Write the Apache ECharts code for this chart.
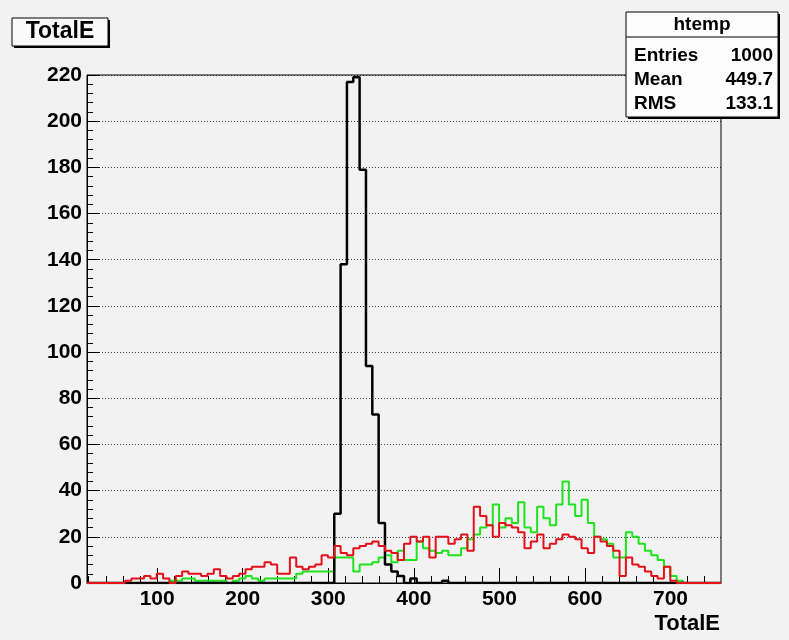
<!DOCTYPE html>
<html><head><meta charset="utf-8">
<script src="https://cdn.jsdelivr.net/npm/echarts@6/dist/echarts.min.js"></script>
<style>html,body{margin:0;padding:0;background:#f2f2f2;}#c{width:789px;height:640px;}</style>
</head><body><div id="c"></div>
<script>
// ---- data ----
const X_MIN = 18, X_MAX = 759, N_BINS = 100;
const xTickLabels = [100, 200, 300, 400, 500, 600, 700];
const yTickLabels = [0, 20, 40, 60, 80, 100, 120, 140, 160, 180, 200, 220];
const blackCounts = [
  0,0,0,0,0,0,0,0,0,0, 0,0,0,0,0,0,0,0,0,0,
  0,0,0,0,0,0,0,0,0,0, 0,0,0,0,0,0,0,0,0,30,
  138,217,219,179,94,73,26,8,5,3, 0,2,0,0,0,0,1,0,0,0,
  0,0,0,0,0,0,0,0,0,0, 0,0,0,0,0,0,0,0,0,0,
  0,0,0,0,0,0,0,0,0,0, 0,0,0,0,0,0,0,0,0,0
];
const redCounts = [
  0,0,0,0,0,0,1,2,2,3, 2,4,2,0,3,5,4,4,3,4,
  6,3,2,3,4,6,7,7,9,8, 4,4,11,7,6,7,8,12,11,16,
  13,12,15,16,17,18,16,14,13,10, 17,20,18,20,11,20,20,17,19,21,
  14,33,29,25,20,26,25,24,22,15, 18,21,15,17,19,21,20,19,15,13,
  20,18,16,14,3,11,8,7,5,3, 2,7,1,0,0,0,0,0,0,0
];
const greenCounts = [
  0,0,0,0,0,0,0,0,0,0, 0,0,0,1,1,2,2,1,1,1,
  1,1,0,1,2,3,2,1,2,2, 2,2,2,4,5,5,5,5,5,11,
  11,11,5,8,8,9,11,12,9,14, 10,10,18,15,14,13,14,12,12,15,
  19,21,24,25,34,24,28,26,35,24, 22,33,28,25,34,44,34,29,36,26,
  20,19,17,11,11,22,20,17,14,12, 10,7,3,1,0,0,0,0,0,0
];
const statsLabels = ['Entries', 'Mean', 'RMS'];
const statsValues = ['1000', '449.7', '133.1'];

// ---- build ----
const BW = (X_MAX - X_MIN) / N_BINS;
function steps(counts) {
  const d = counts.map((c, i) => [X_MIN + i * BW, c]);
  d.push([X_MAX, counts[counts.length - 1]]);
  return d;
}
const minorX = [];
for (let v = 20; v < X_MAX; v += 20) if (v % 100 !== 0) minorX.push(v);

const FONT = "'Liberation Sans', Arial, sans-serif";
const chart = echarts.init(document.getElementById('c'), null, {renderer: 'canvas'});
const lineSeries = (name, counts, color, w) => ({
  name, type: 'line', step: 'end', data: steps(counts), symbol: 'none',
  xAxisIndex: 0, yAxisIndex: 0, animation: false,
  lineStyle: {color, width: w}, z: 5
});

chart.setOption({
  backgroundColor: '#f2f2f2',
  animation: false,
  grid: {left: 87, right: 68, top: 75, bottom: 57, show: true, borderColor: '#000', borderWidth: 1, backgroundColor: 'transparent'},
  xAxis: [{
    type: 'value', min: X_MIN, max: X_MAX,
    axisLine: {show: true, lineStyle: {color: '#000', width: 1}},
    axisTick: {show: true, inside: true, length: 15, customValues: xTickLabels, lineStyle: {color: '#000', width: 1}},
    axisLabel: {show: true, customValues: xTickLabels, color: '#000', fontWeight: 'bold', fontSize: 21, fontFamily: FONT, margin: 6},
    splitLine: {show: false}
  }, {
    type: 'value', min: X_MIN, max: X_MAX, position: 'bottom',
    axisLine: {show: false},
    axisTick: {show: true, inside: true, length: 7, customValues: minorX, lineStyle: {color: '#000', width: 1}},
    axisLabel: {show: false},
    splitLine: {show: false}
  }],
  yAxis: {
    type: 'value', min: yTickLabels[0], max: yTickLabels[yTickLabels.length - 1], interval: 20,
    axisLine: {show: true, lineStyle: {color: '#000', width: 1}},
    axisTick: {show: true, inside: true, length: 13, lineStyle: {color: '#000'}},
    minorTick: {show: true, splitNumber: 5, length: 6, lineStyle: {color: '#000'}},
    axisLabel: {color: '#000', fontWeight: 'bold', fontSize: 21, fontFamily: FONT, margin: 5},
    splitLine: {show: true, lineStyle: {color: '#000', type: [1, 2], width: 1, opacity: 0.75}}
  },
  series: [
    lineSeries('green', greenCounts, '#1ee41e', 2),
    lineSeries('black', blackCounts, '#000000', 2.5),
    lineSeries('red', redCounts, '#e4101a', 2)
  ],
  graphic: [
    {type: 'rect', shape: {x: 14, y: 20, width: 96, height: 28}, style: {fill: '#000'}, z: 10},
    {type: 'rect', shape: {x: 12, y: 18, width: 96, height: 28}, style: {fill: '#fafafa', stroke: '#000', lineWidth: 1}, z: 11},
    {type: 'text', x: 60, y: 32, style: {text: 'TotalE', fill: '#000', font: 'bold 23px ' + FONT, align: 'center', verticalAlign: 'middle'}, z: 12},
    {type: 'rect', shape: {x: 628, y: 14, width: 152, height: 105}, style: {fill: '#000'}, z: 10},
    {type: 'rect', shape: {x: 626, y: 12, width: 152, height: 105}, style: {fill: '#fdfdfd', stroke: '#000', lineWidth: 1}, z: 11},
    {type: 'line', shape: {x1: 626, y1: 37, x2: 778, y2: 37}, style: {stroke: '#000', lineWidth: 1}, z: 12},
    {type: 'text', x: 702, y: 25, style: {text: 'htemp', fill: '#000', font: 'bold 19px ' + FONT, align: 'center', verticalAlign: 'middle'}, z: 12},
    ...statsLabels.map((t, i) => ({type: 'text', x: 634, y: 56 + i * 24, style: {text: t, fill: '#000', font: 'bold 19px ' + FONT, align: 'left', verticalAlign: 'middle'}, z: 12})),
    ...statsValues.map((t, i) => ({type: 'text', x: 773, y: 56 + i * 24, style: {text: t, fill: '#000', font: 'bold 19px ' + FONT, align: 'right', verticalAlign: 'middle'}, z: 12})),
    {type: 'text', x: 720, y: 624, style: {text: 'TotalE', fill: '#000', font: 'bold 22px ' + FONT, align: 'right', verticalAlign: 'middle'}, z: 12}
  ]
});
</script></body></html>
